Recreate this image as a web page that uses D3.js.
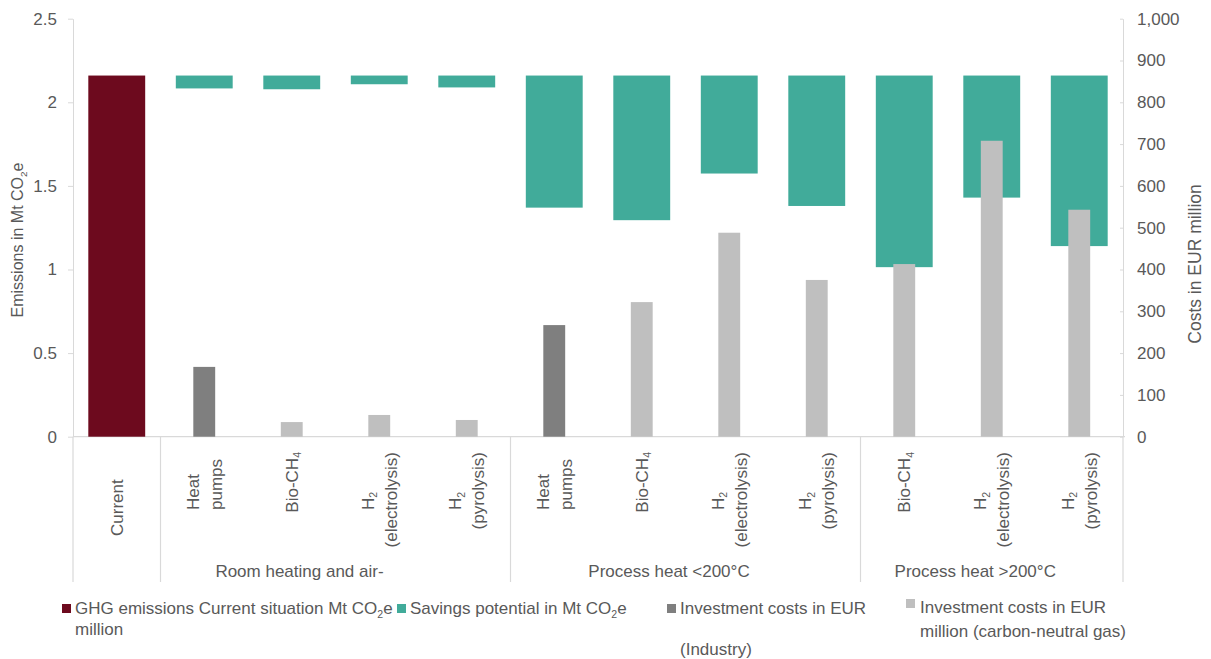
<!DOCTYPE html>
<html>
<head>
<meta charset="utf-8">
<script src="https://cdn.jsdelivr.net/npm/d3@7"></script>
<style>
  html, body { margin: 0; padding: 0; background: #ffffff; }
  svg { display: block; font-family: "Liberation Sans", Arial, Helvetica, sans-serif; }
</style>
</head>
<body>
<svg id="chart" width="1211" height="659"></svg>
<script>
// ---- Data -------------------------------------------------------------
// Axis label lines per category; text inside {} is set as a subscript.
const categoryLines = [
  ["Current"],
  ["Heat", "pumps"],
  ["Bio-CH{4}"],
  ["H{2}", "(electrolysis)"],
  ["H{2}", "(pyrolysis)"],
  ["Heat", "pumps"],
  ["Bio-CH{4}"],
  ["H{2}", "(electrolysis)"],
  ["H{2}", "(pyrolysis)"],
  ["Bio-CH{4}"],
  ["H{2}", "(electrolysis)"],
  ["H{2}", "(pyrolysis)"]
];
const groupNames = ["", "Room heating and air-", "Process heat <200°C", "Process heat >200°C"];
const groupSizes = [1, 4, 4, 3];

// Emissions (Mt CO2e, left axis)
const currentEmissions = [2.16, null, null, null, null, null, null, null, null, null, null, null];
const savingsPotential = [null, 0.077, 0.082, 0.052, 0.071, 0.79, 0.865, 0.586, 0.78, 1.146, 0.73, 1.02];

// Investment costs (EUR million, right axis)
const investmentIndustry = [null, 167, null, null, null, 267, null, null, null, null, null, null];
const investmentGas = [null, null, 35, 52, 40, null, 322, 488, 375, 413, 708, 543];

const leftTicks = [0, 0.5, 1, 1.5, 2, 2.5];
const rightTicks = [0, 100, 200, 300, 400, 500, 600, 700, 800, 900, 1000];

const legendLabels = [
  ["GHG emissions Current situation Mt CO{2}e", "million"],
  ["Savings potential in Mt CO{2}e"],
  ["Investment costs in EUR", "", "(Industry)"],
  ["Investment costs in EUR", "million (carbon-neutral gas)"]
];

// ---- Styling ----------------------------------------------------------
const COLORS = {
  current: "#6d0a1e",
  savings: "#41ab9a",
  industry: "#7f7f7f",
  gas: "#bfbfbf",
  axis: "#d9d9d9",
  text: "#595959"
};
const FS = 17;

const svg = d3.select("#chart");

// Plot frame
const plot = { left: 73, right: 1123, top: 18.7, bottom: 436.7, labelBottom: 582 };

const x = d3.scaleBand()
  .domain(d3.range(categoryLines.length))
  .range([plot.left, plot.right])
  .paddingInner(0).paddingOuter(0);
const bw = x.bandwidth();

const yL = d3.scaleLinear().domain([0, 2.5]).range([plot.bottom, plot.top]);
const yR = d3.scaleLinear().domain([0, 1000]).range([plot.bottom, plot.top]);

// Writes a string with {subscript} runs into a text element
function richText(sel, str, fs) {
  const parts = str.split(/\{([^}]*)\}/);
  const shift = fs * 0.22;
  let shifted = false;
  parts.forEach((p, i) => {
    if (!p) return;
    const sub = i % 2 === 1;
    const t = sel.append("tspan").text(p);
    if (sub) {
      t.attr("font-size", fs * 0.62);
      if (!shifted) { t.attr("dy", shift); shifted = true; }
    } else if (shifted) {
      t.attr("dy", -shift);
      shifted = false;
    }
  });
}

// ---- Axes -------------------------------------------------------------
const axisLeft = d3.axisLeft(yL)
  .tickValues(leftTicks)
  .tickFormat(d => String(d))
  .tickSize(5).tickSizeOuter(0).tickPadding(11);
const gL = svg.append("g").attr("transform", `translate(${plot.left},0)`).call(axisLeft);

const axisRight = d3.axisRight(yR)
  .tickValues(rightTicks)
  .tickFormat(d3.format(","))
  .tickSize(-3).tickSizeOuter(0).tickPadding(14);
const gR = svg.append("g").attr("transform", `translate(${plot.right},0)`).call(axisRight);

[gL, gR].forEach(g => {
  g.select(".domain").attr("stroke", COLORS.axis).attr("stroke-width", 1);
  g.selectAll(".tick line").attr("stroke", COLORS.axis);
  g.selectAll(".tick text")
    .attr("fill", COLORS.text)
    .attr("font-size", FS)
    .attr("font-family", "Liberation Sans, Arial, sans-serif");
});

// Category axis baseline
svg.append("line")
  .attr("x1", plot.left).attr("x2", plot.right + 2)
  .attr("y1", plot.bottom).attr("y2", plot.bottom)
  .attr("stroke", COLORS.axis).attr("stroke-width", 1.2);

// Group separators below the axis
const boundaries = [0];
groupSizes.forEach((n, i) => boundaries.push(boundaries[i] + n));
boundaries.forEach(b => {
  const bx = b < categoryLines.length ? x(b) : plot.right;
  svg.append("line")
    .attr("x1", bx).attr("x2", bx)
    .attr("y1", plot.bottom).attr("y2", plot.labelBottom)
    .attr("stroke", COLORS.axis).attr("stroke-width", 1.2);
});

// Axis titles
svg.append("text")
  .attr("transform", `translate(23,240) rotate(-90)`)
  .attr("text-anchor", "middle")
  .attr("fill", COLORS.text)
  .attr("font-size", 16)
  .call(t => richText(t, "Emissions in Mt CO{2}e", 16));

svg.append("text")
  .attr("transform", `translate(1201,264) rotate(-90)`)
  .attr("text-anchor", "middle")
  .attr("fill", COLORS.text)
  .attr("font-size", 17.5)
  .text("Costs in EUR million");

// ---- Bars -------------------------------------------------------------
const wideW = bw * 0.65;
const thinW = bw * 0.25;
const idx = d3.range(categoryLines.length);

// Current emissions
svg.append("g").selectAll("rect")
  .data(idx.filter(i => currentEmissions[i] != null))
  .join("rect")
  .attr("x", i => x(i) + (bw - wideW) / 2)
  .attr("width", wideW)
  .attr("y", i => yL(currentEmissions[i]))
  .attr("height", i => yL(0) - yL(currentEmissions[i]))
  .attr("fill", COLORS.current);

// Savings potential, hanging down from the current emission level
const baseLevel = currentEmissions[0];
svg.append("g").selectAll("rect")
  .data(idx.filter(i => savingsPotential[i] != null))
  .join("rect")
  .attr("x", i => x(i) + (bw - wideW) / 2)
  .attr("width", wideW)
  .attr("y", yL(baseLevel))
  .attr("height", i => yL(baseLevel - savingsPotential[i]) - yL(baseLevel))
  .attr("fill", COLORS.savings);

// Investment costs (secondary axis)
function costBars(values, color) {
  svg.append("g").selectAll("rect")
    .data(idx.filter(i => values[i] != null))
    .join("rect")
    .attr("x", i => x(i) + (bw - thinW) / 2)
    .attr("width", thinW)
    .attr("y", i => yR(values[i]))
    .attr("height", i => yR(0) - yR(values[i]))
    .attr("fill", color);
}
costBars(investmentIndustry, COLORS.industry);
costBars(investmentGas, COLORS.gas);

// ---- Category labels (rotated) ----------------------------------------
const groupOf = [];
groupSizes.forEach((n, g) => { for (let k = 0; k < n; k++) groupOf.push(g); });

const lineGap = 23;
categoryLines.forEach((lines, i) => {
  const cx = x(i) + bw / 2;
  const n = lines.length;
  const firstStart = groupNames[groupOf[i]] ? 510 : 536;
  lines.forEach((ln, k) => {
    const bx = cx + (k - (n - 1) / 2) * lineGap + FS * 0.35;
    const t = svg.append("text")
      .attr("text-anchor", "start")
      .attr("fill", COLORS.text)
      .attr("font-size", FS);
    richText(t, ln, FS);
    const L = t.node().getComputedTextLength();
    const yStart = Math.max(firstStart, 452 + L);
    t.attr("transform", `translate(${bx},${yStart}) rotate(-90)`);
  });
});

// Group labels
const groupLabelShift = [0, -36, -16.5, -16.5];
groupNames.forEach((name, g) => {
  if (!name) return;
  const x0 = x(boundaries[g]);
  const x1 = boundaries[g + 1] < categoryLines.length ? x(boundaries[g + 1]) : plot.right;
  svg.append("text")
    .attr("x", (x0 + x1) / 2 + groupLabelShift[g])
    .attr("y", 577)
    .attr("text-anchor", "middle")
    .attr("fill", COLORS.text)
    .attr("font-size", FS)
    .text(name);
});

// ---- Legend -----------------------------------------------------------
const legendColors = [COLORS.current, COLORS.savings, COLORS.industry, COLORS.gas];
const legendLayout = [
  { mx: 62, my: 604, tx: 75 },
  { mx: 397, my: 604, tx: 410 },
  { mx: 667, my: 604, tx: 680 },
  { mx: 906, my: 599, tx: 920 }
];
const legendLine = 20.5;
legendLabels.forEach((lines, j) => {
  const L = legendLayout[j];
  svg.append("rect")
    .attr("x", L.mx).attr("y", L.my)
    .attr("width", 9).attr("height", 9)
    .attr("fill", legendColors[j]);
  lines.forEach((ln, k) => {
    if (!ln) return;
    const t = svg.append("text")
      .attr("x", L.tx)
      .attr("y", 614 + k * legendLine + (j === 3 ? -1 + k * 3.5 : 0))
      .attr("fill", COLORS.text)
      .attr("font-size", FS);
    richText(t, ln, FS);
  });
});
</script>
</body>
</html>
